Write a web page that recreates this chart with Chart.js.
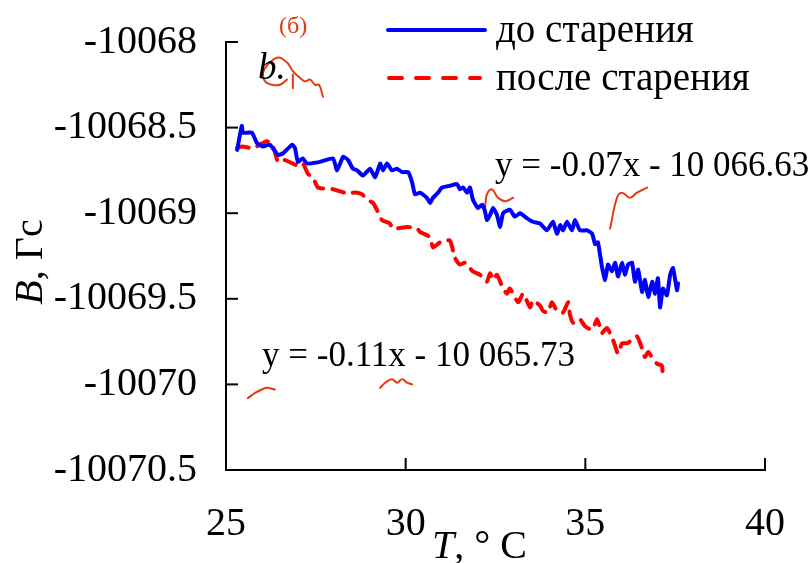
<!DOCTYPE html>
<html>
<head>
<meta charset="utf-8">
<script src="https://cdn.jsdelivr.net/npm/chart.js@4/dist/chart.umd.min.js"></script>
<style>
  body { margin: 0; background: #fff; }
</style>
</head>
<body>
<canvas id="chart" width="811" height="563"></canvas>
<script>
// Magnetic field B (Gs) vs temperature T (°C), before and after ageing.

const tempBefore = [25.31,25.44,25.47,25.72,25.86,26.03,26.22,26.45,26.59,26.84,26.92,27.00,27.14,27.25,27.62,27.98,28.09,28.26,28.40,28.53,28.65,28.81,29.01,29.15,29.29,29.37,29.48,29.62,29.76,29.90,30.07,30.18,30.26,30.40,30.59,30.68,30.76,30.90,31.01,31.23,31.43,31.51,31.60,31.71,31.79,31.87,32.01,32.13,32.21,32.26,32.35,32.43,32.54,32.63,32.71,32.90,33.04,33.18,33.38,33.54,33.74,33.93,34.10,34.21,34.30,34.38,34.49,34.63,34.71,34.85,35.05,35.19,35.27,35.35,35.46,35.55,35.63,35.74,35.83,35.91,36.02,36.10,36.19,36.30,36.38,36.47,36.58,36.66,36.75,36.86,36.94,37.02,37.08,37.16,37.27,37.36,37.44,37.55,37.58];
const fieldBefore = [-10068.63,-10068.49,-10068.53,-10068.53,-10068.59,-10068.61,-10068.60,-10068.66,-10068.65,-10068.60,-10068.62,-10068.70,-10068.68,-10068.71,-10068.70,-10068.68,-10068.75,-10068.67,-10068.69,-10068.74,-10068.75,-10068.78,-10068.74,-10068.79,-10068.71,-10068.75,-10068.71,-10068.75,-10068.74,-10068.76,-10068.76,-10068.82,-10068.89,-10068.88,-10068.91,-10068.94,-10068.91,-10068.88,-10068.85,-10068.84,-10068.83,-10068.86,-10068.85,-10068.88,-10068.85,-10068.92,-10068.97,-10068.95,-10068.99,-10069.04,-10069.01,-10068.97,-10069.01,-10069.08,-10069.00,-10068.98,-10069.02,-10069.00,-10069.03,-10069.05,-10069.06,-10069.10,-10069.05,-10069.12,-10069.07,-10069.10,-10069.05,-10069.10,-10069.04,-10069.10,-10069.10,-10069.12,-10069.18,-10069.17,-10069.31,-10069.39,-10069.30,-10069.34,-10069.29,-10069.37,-10069.29,-10069.36,-10069.30,-10069.29,-10069.40,-10069.33,-10069.46,-10069.39,-10069.49,-10069.40,-10069.47,-10069.38,-10069.55,-10069.44,-10069.48,-10069.36,-10069.32,-10069.45,-10069.41];

const tempAfter = [25.31,25.45,25.75,26.14,26.31,26.45,26.64,26.98,27.14,27.28,27.42,27.56,27.98,28.31,28.65,28.79,28.92,29.09,29.20,29.34,29.56,29.65,30.04,30.32,30.40,30.68,30.76,30.96,31.23,31.37,31.51,31.65,31.87,32.07,32.26,32.35,32.43,32.54,32.71,32.82,32.90,33.13,33.27,33.46,33.54,33.74,33.82,33.96,34.07,34.21,34.38,34.52,34.57,34.66,34.85,34.99,35.19,35.33,35.46,35.60,35.77,35.91,36.02,36.16,36.30,36.44,36.58,36.66,36.75,36.88,37.00,37.13,37.16];
const fieldAfter = [-10068.62,-10068.61,-10068.62,-10068.58,-10068.61,-10068.70,-10068.69,-10068.72,-10068.71,-10068.77,-10068.79,-10068.85,-10068.86,-10068.88,-10068.88,-10068.89,-10068.92,-10068.94,-10068.98,-10069.04,-10069.06,-10069.09,-10069.08,-10069.09,-10069.11,-10069.14,-10069.20,-10069.17,-10069.16,-10069.26,-10069.30,-10069.29,-10069.34,-10069.36,-10069.40,-10069.35,-10069.39,-10069.36,-10069.44,-10069.47,-10069.44,-10069.52,-10069.47,-10069.55,-10069.51,-10069.54,-10069.57,-10069.58,-10069.52,-10069.57,-10069.58,-10069.52,-10069.59,-10069.64,-10069.62,-10069.66,-10069.68,-10069.62,-10069.70,-10069.67,-10069.74,-10069.82,-10069.76,-10069.76,-10069.74,-10069.72,-10069.79,-10069.84,-10069.81,-10069.85,-10069.88,-10069.89,-10069.97];

// hand-drawn pen strokes over the plot
const penLoopT = [26.70,26.50,26.28,26.09,26.03,26.17,26.45,26.70,26.86,27.06,27.20,27.34,27.48,27.59,27.70];
const penLoopB = [-10068.22,-10068.25,-10068.25,-10068.23,-10068.18,-10068.13,-10068.09,-10068.12,-10068.17,-10068.21,-10068.23,-10068.22,-10068.25,-10068.25,-10068.32];
const penStemT = [26.86,26.86];
const penStemB = [-10068.19,-10068.27];
const penMidT = [32.21,32.26,32.40,32.57,32.77,32.99];
const penMidB = [-10068.97,-10068.89,-10068.86,-10068.91,-10068.93,-10068.91];
const penRightT = [35.69,35.88,36.02,36.24,36.44,36.72];
const penRightB = [-10069.09,-10068.91,-10068.88,-10068.91,-10068.88,-10068.85];
const penLowAT = [25.61,25.81,26.00,26.14,26.36];
const penLowAB = [-10070.08,-10070.05,-10070.03,-10070.02,-10070.03];
const penLowBT = [29.29,29.43,29.62,29.76,29.90,30.04,30.18];
const penLowBB = [-10070.02,-10069.99,-10069.97,-10069.99,-10069.97,-10069.99,-10070.00];

const xTicks = [25, 30, 35, 40];
const yTicks = [-10070.5, -10070, -10069.5, -10069, -10068.5, -10068];

const seriesNames = ['до старения', 'после старения'];
const fitBefore = 'y = -0.07x - 10 066.63';
const fitAfter = 'y = -0.11x - 10 065.73';

const SERIF = "'Liberation Serif', 'Times New Roman', serif";
const PEN = '#e8380d';

const zip = (xs, ys) => xs.map((x, i) => ({ x: x, y: ys[i] }));

function penSet(xs, ys) {
  return {
    data: zip(xs, ys),
    borderColor: PEN,
    borderWidth: 2,
    pointRadius: 0,
    tension: 0.4,
    borderCapStyle: 'round',
    fill: false
  };
}

// axes ticks drawn inward, legend, fit equations and titles
const overlay = {
  id: 'overlay',
  afterDraw(chart) {
    const { ctx, chartArea, scales } = chart;
    const blue = chart.data.datasets[0];
    const red = chart.data.datasets[1];
    ctx.save();

    ctx.strokeStyle = '#000';
    ctx.lineWidth = 2;
    yTicks.forEach(v => {
      const py = scales.y.getPixelForValue(v);
      ctx.beginPath();
      ctx.moveTo(chartArea.left, py);
      ctx.lineTo(chartArea.left + 12, py);
      ctx.stroke();
    });
    xTicks.forEach(v => {
      const px = scales.x.getPixelForValue(v);
      ctx.beginPath();
      ctx.moveTo(px, chartArea.bottom);
      ctx.lineTo(px, chartArea.bottom - 12);
      ctx.stroke();
    });

    // legend
    ctx.lineCap = 'round';
    ctx.lineWidth = 4;
    ctx.strokeStyle = blue.borderColor;
    ctx.beginPath();
    ctx.moveTo(388, 30);
    ctx.lineTo(485, 30);
    ctx.stroke();
    ctx.strokeStyle = red.borderColor;
    ctx.setLineDash([13, 14]);
    ctx.beginPath();
    ctx.moveTo(389, 78);
    ctx.lineTo(480, 78);
    ctx.stroke();
    ctx.setLineDash([]);

    ctx.fillStyle = '#000';
    ctx.textBaseline = 'alphabetic';
    ctx.textAlign = 'left';
    ctx.font = '39px ' + SERIF;
    ctx.fillText(seriesNames[0], 496, 42);
    ctx.fillText(seriesNames[1], 496, 90);

    // linear fits
    ctx.font = '35px ' + SERIF;
    ctx.fillText(fitBefore, 495, 176);
    ctx.fillText(fitAfter, 262, 366);

    // panel marks
    ctx.font = 'italic 37px ' + SERIF;
    ctx.fillText('b.', 258, 79);
    ctx.fillStyle = PEN;
    ctx.font = '24px ' + SERIF;
    ctx.fillText('(б)', 279, 33);

    // x title
    ctx.fillStyle = '#000';
    let x0 = 432;
    ctx.font = 'italic 40px ' + SERIF;
    ctx.fillText('T', x0, 558);
    x0 += ctx.measureText('T').width;
    ctx.font = '40px ' + SERIF;
    ctx.fillText(', \u00b0 C', x0, 558);

    // y title
    ctx.translate(42, 262);
    ctx.rotate(-Math.PI / 2);
    ctx.font = 'italic 40px ' + SERIF;
    const wB = ctx.measureText('B').width;
    ctx.font = '40px ' + SERIF;
    const wRest = ctx.measureText(', Гс').width;
    let y0 = -(wB + wRest) / 2;
    ctx.font = 'italic 40px ' + SERIF;
    ctx.fillText('B', y0, 0);
    ctx.font = '40px ' + SERIF;
    ctx.fillText(', Гс', y0 + wB, 0);

    ctx.restore();
  }
};

new Chart(document.getElementById('chart'), {
  type: 'line',
  data: {
    datasets: [
      {
        label: seriesNames[0],
        data: zip(tempBefore, fieldBefore),
        borderColor: '#0000ff',
        borderWidth: 4,
        pointRadius: 0,
        tension: 0.15,
        borderJoinStyle: 'round',
        borderCapStyle: 'round',
        fill: false
      },
      {
        label: seriesNames[1],
        data: zip(tempAfter, fieldAfter),
        borderColor: '#ff0000',
        borderWidth: 4,
        borderDash: [12, 9],
        pointRadius: 0,
        tension: 0.2,
        borderCapStyle: 'round',
        fill: false
      },
      penSet(penLoopT, penLoopB),
      penSet(penStemT, penStemB),
      penSet(penMidT, penMidB),
      penSet(penRightT, penRightB),
      penSet(penLowAT, penLowAB),
      penSet(penLowBT, penLowBB)
    ]
  },
  options: {
    responsive: false,
    animation: false,
    layout: { padding: { left: 0, top: 42, right: 46, bottom: 0 } },
    plugins: { legend: { display: false }, tooltip: { enabled: false } },
    scales: {
      x: {
        type: 'linear',
        min: 25,
        max: 40,
        afterBuildTicks: s => { s.ticks = xTicks.map(v => ({ value: v })); },
        afterFit: s => { s.height = 93; s.paddingLeft = 0; s.paddingRight = 0; },
        grid: { display: false, drawTicks: false },
        border: { display: true, color: '#000', width: 2 },
        ticks: {
          padding: 30,
          color: '#000',
          font: { family: SERIF, size: 40 },
          maxRotation: 0,
          callback: v => String(v)
        }
      },
      y: {
        type: 'linear',
        min: -10070.5,
        max: -10068,
        afterBuildTicks: s => { s.ticks = yTicks.map(v => ({ value: v })); },
        afterFit: s => { s.width = 226; s.paddingTop = 0; s.paddingBottom = 0; },
        grid: { display: false, drawTicks: false },
        border: { display: true, color: '#000', width: 2 },
        ticks: {
          padding: 29,
          color: '#000',
          font: { family: SERIF, size: 40 },
          callback: v => String(Math.round(v * 10) / 10)
        }
      }
    }
  },
  plugins: [overlay]
});
</script>
</body>
</html>
